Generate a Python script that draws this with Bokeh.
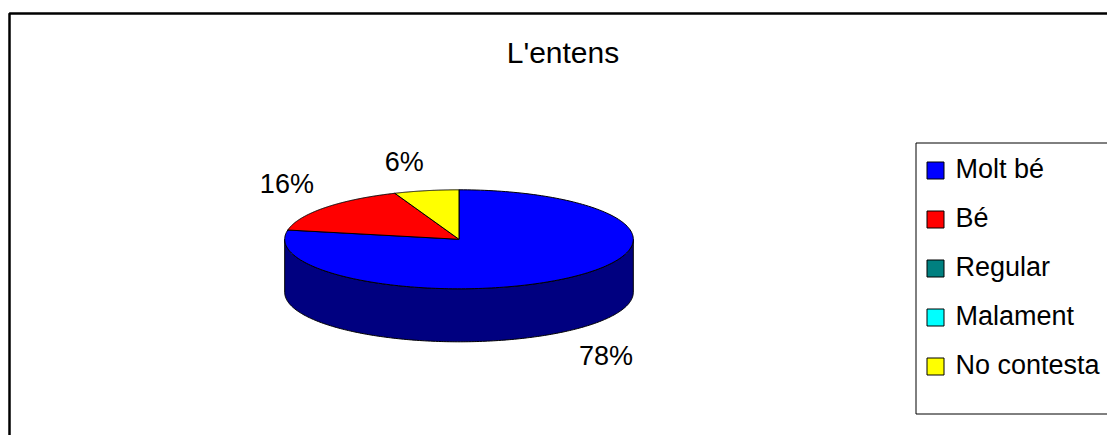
import numpy as np
from bokeh.plotting import figure
from bokeh.models import Range1d
from bokeh.embed import file_html
from bokeh.resources import INLINE
from bokeh.core.properties import value

# ---- data ----
title_text = "L'entens"
categories = ["Molt bé", "Bé", "Regular", "Malament", "No contesta"]
values = [78, 16, 0, 0, 6]
colors = ["#0000FF", "#FF0000", "#008080", "#00FFFF", "#FFFF00"]
side_colors = ["#000080", "#800000", "#004040", "#008080", "#808000"]

# ---- geometry (pixel space) ----
W, H = 1107, 435
cx, cy = 458.5, 238.8
rx, ry = 174.3, 49.5
depth = 53.0
gap = 14.0
FONT = value("Liberation Sans")

p = figure(width=W, height=H, output_backend="svg", toolbar_location=None,
           x_range=Range1d(0, W), y_range=Range1d(H, 0),
           x_axis_type=None, y_axis_type=None, min_border=0,
           background_fill_color="white", border_fill_color="white")
p.outline_line_color = None
p.grid.visible = False


def arc(a0, a1, yoff=0.0, n=200):
    t = np.linspace(a0, a1, n)
    return cx + rx * np.sin(t), cy + yoff - ry * np.cos(t)


total = float(sum(values))
fr = [v / total for v in values]
starts = np.concatenate([[0.0], np.cumsum(fr)[:-1]]) * 2 * np.pi
ends = np.cumsum(fr) * 2 * np.pi

# side walls (front half only: angles between pi/2 and 3pi/2)
for s, e, v, sc in zip(starts, ends, values, side_colors):
    if v <= 0:
        continue
    a0, a1 = max(s, np.pi / 2), min(e, 3 * np.pi / 2)
    if a1 <= a0:
        continue
    tx, ty = arc(a0, a1)
    bx, by = arc(a1, a0, depth)
    p.patch(np.concatenate([tx, bx]), np.concatenate([ty, by]),
            fill_color=sc, line_color="black", line_width=1)

# top faces
for s, e, v, c in zip(starts, ends, values, colors):
    if v <= 0:
        continue
    ax, ay = arc(s, e)
    p.patch(np.concatenate([[cx], ax, [cx]]), np.concatenate([[cy], ay, [cy]]),
            fill_color=c, line_color="black", line_width=1)

# data labels
for s, e, v in zip(starts, ends, values):
    if v <= 0:
        continue
    m = (s + e) / 2
    sx, cs = np.sin(m), np.cos(m)
    lx = cx + (rx + gap) * sx
    ly = cy - (ry + gap) * cs + (depth if cs < 0 else 0)
    p.text(x=[lx], y=[ly], text=[f"{v}%"], text_font=FONT,
           text_font_size="27px", text_color="black",
           text_align="right" if sx < 0 else "left",
           text_baseline="bottom" if cs > 0 else "top")

# title
p.text(x=[562.5], y=[52], text=[title_text], text_font=FONT,
       text_font_size="30px", text_align="center", text_baseline="middle")

# chart border (left & top visible)
p.line(x=[9, 9, 1300], y=[600, 13, 13], line_color="black", line_width=2.5)

# legend box
p.quad(left=915.5, right=1300, top=142.5, bottom=413.5,
       fill_color="white", line_color="black", line_width=1)
ys = [170 + 49 * i for i in range(len(categories))]
p.rect(x=[935] * len(categories), y=ys, width=17, height=17,
       fill_color=colors, line_color="black", line_width=1)
p.text(x=[955] * len(categories), y=[yy - 1.5 for yy in ys], text=categories,
       text_font=FONT, text_font_size="27px", text_color="black",
       text_align="left", text_baseline="middle")

open("out.html", "w").write(file_html(p, INLINE))
